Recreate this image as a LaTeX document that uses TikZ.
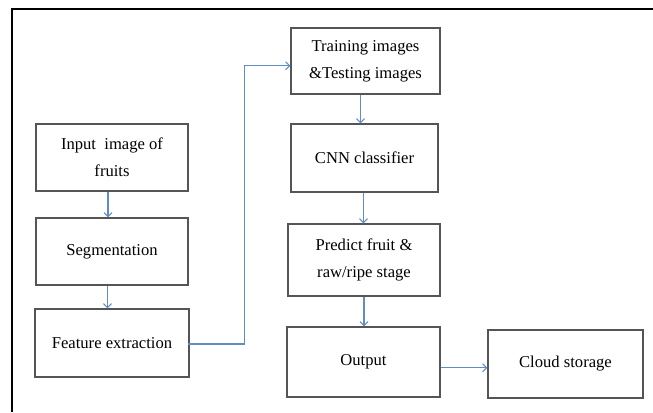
\documentclass[tikz,border=0pt]{standalone}
\usepackage{fontspec}
\setmainfont{Liberation Serif}
\usetikzlibrary{arrows.meta}
\definecolor{boxgray}{RGB}{85,85,85}
\definecolor{arrblue}{RGB}{96,140,200}
\tikzset{
  stepbox/.style={draw=boxgray, line width=1.3bp, align=center, inner sep=0pt,
    font=\fontsize{16.6bp}{27bp}\selectfont},
  arr/.style={draw=arrblue, line width=1.1bp, -{Straight Barb[length=4bp,width=8bp]}},
  frameline/.style={draw=black, line width=1.1bp}
}
\begin{document}
\begin{tikzpicture}[x=1bp,y=-1bp]
\useasboundingbox (0,0) rectangle (653,412);
\coordinate (ftl) at (12,9);
\coordinate (ftr) at (653,9);
\coordinate (fbl) at (12,412);
\draw[frameline] (ftr) -- (ftl) -- (fbl);

\node[stepbox, minimum width=152bp, minimum height=67bp] (inp) at (112,157.5) {Input\ \ image of\\fruits};
\node[stepbox, minimum width=152bp, minimum height=67bp] (seg) at (112,251.5) {Segmentation};
\node[stepbox, minimum width=154bp, minimum height=68bp] (feat) at (112,343) {Feature extraction};
\node[stepbox, minimum width=149bp, minimum height=66bp] (train) at (365.5,61) {Training images\\\&Testing images};
\node[stepbox, minimum width=147bp, minimum height=68bp] (cnn) at (364.5,158) {CNN classifier};
\node[stepbox, minimum width=152bp, minimum height=72bp] (pred) at (364,260) {Predict fruit \&\\raw/ripe stage};
\node[stepbox, minimum width=153bp, minimum height=70bp] (out) at (363.5,362) {Output};
\node[stepbox, minimum width=155bp, minimum height=68bp] (cloud) at (565.5,364) {Cloud storage};

\coordinate (elbow) at (244.5,344);
\draw[arr] ([xshift=-4bp]inp.south) -- ([xshift=-4bp]inp.south |- seg.north);
\draw[arr] ([xshift=-4.5bp]seg.south) -- ([xshift=-4.5bp]seg.south |- feat.north);
\draw[arr] ([xshift=-2bp,yshift=-1bp]feat.east) -- (elbow) |- ([yshift=-4.7bp]train.west);
\draw[arr] ([xshift=-5bp]train.south) -- ([xshift=-5bp]train.south |- cnn.north);
\draw[arr] ([xshift=-1bp]cnn.south) -- ([xshift=-1bp]cnn.south |- pred.north);
\draw[arr] (pred.south) -- (pred.south |- out.north);
\draw[arr] ([yshift=-5.7bp]out.east) -- ([yshift=-5.7bp]out.east -| cloud.west);
\end{tikzpicture}
\end{document}
